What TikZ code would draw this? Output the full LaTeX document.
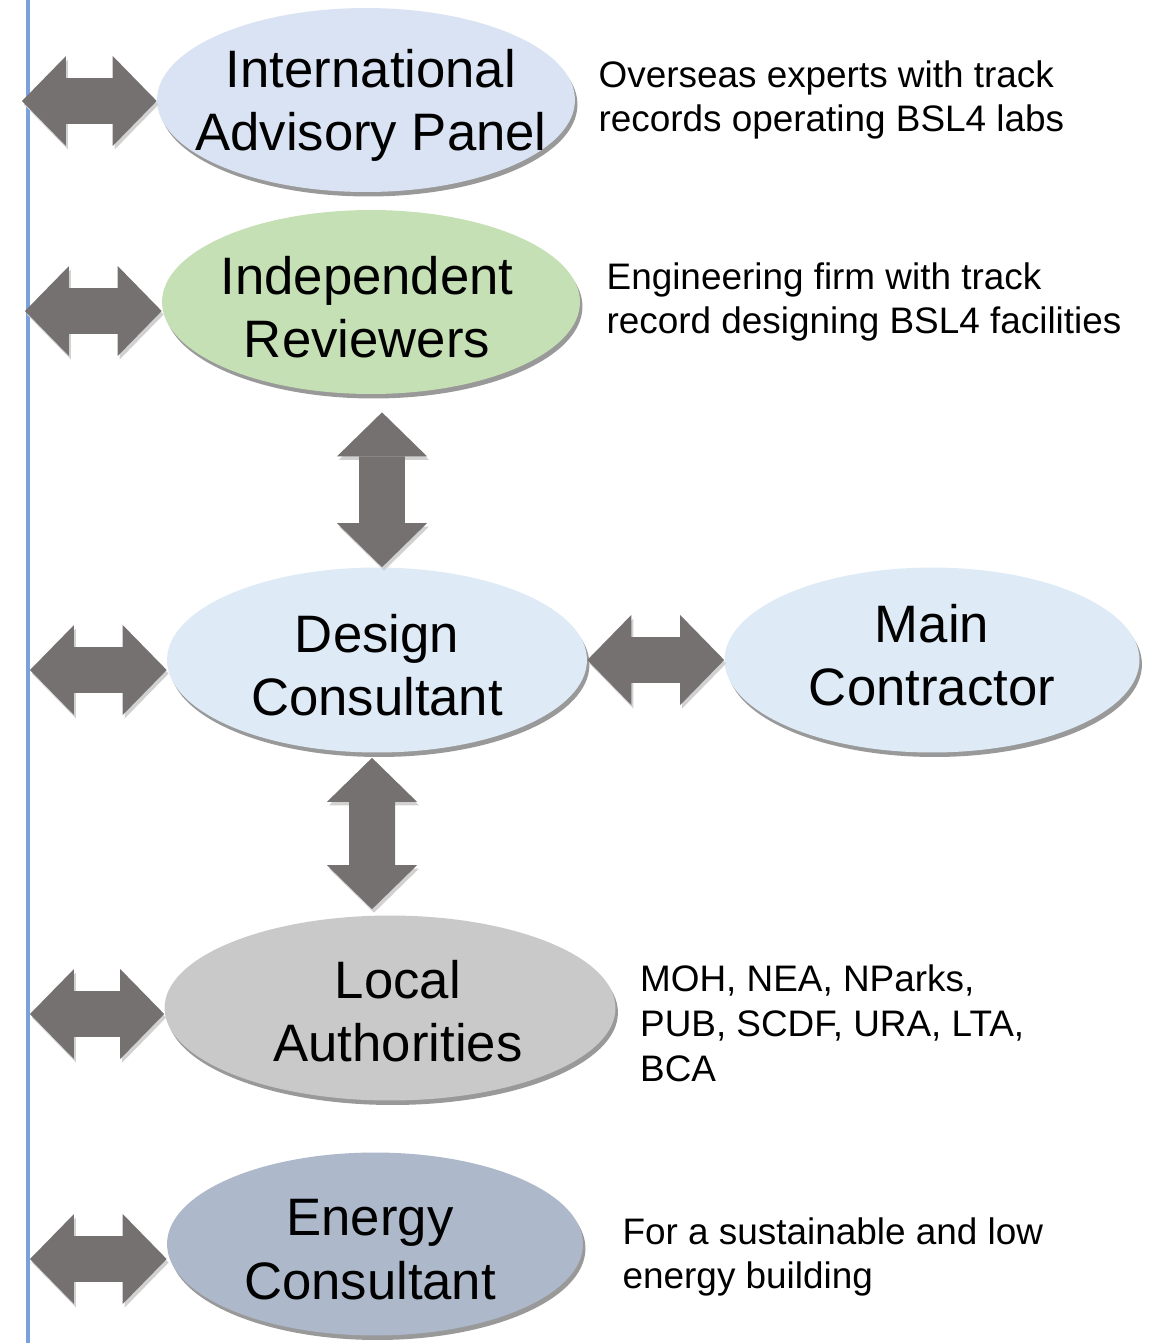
\documentclass[tikz,border=0pt]{standalone}
\usepackage{fontspec}
\setmainfont{Liberation Sans}
\usepackage{xcolor}
\usepackage{tikz}
\definecolor{railblue}{RGB}{122,160,222}
\definecolor{arrowgray}{RGB}{118,113,113}
\definecolor{panelblue}{RGB}{218,227,243}
\definecolor{reviewgreen}{RGB}{197,224,180}
\definecolor{designblue}{RGB}{222,235,247}
\definecolor{authgray}{RGB}{201,201,201}
\definecolor{energyblue}{RGB}{173,185,202}
\usetikzlibrary{shapes.geometric, arrows.meta, positioning, calc, shadows}

\begin{document}
\begin{tikzpicture}[
        x=0.02cm, y=-0.02cm,
        party/.style={ellipse, minimum width=8.36cm, minimum height=3.68cm, inner sep=0pt,
                    drop shadow={shadow xshift=0.05cm, shadow yshift=-0.09cm, opacity=0.4, fill=black}},
        partytext/.style={align=center, inner sep=0pt, yshift=-0.11cm, font=\fontsize{30}{36}\selectfont},
        note/.style={align=left, inner sep=0pt, font=\fontsize{21}{25.5}\selectfont},
        bigarrow/.style={draw=arrowgray, line width=0.92cm,
                    {Triangle[length=0.88cm, width=1.8cm, line width=0pt]}-{Triangle[length=0.88cm, width=1.8cm, line width=0pt]},
                    preaction={draw=black!18, transform canvas={shift={(0.04cm,-0.07cm)}}}},
        rail/.style={draw=railblue, line width=0.1cm}
    ]
        \useasboundingbox (0,0) rectangle (1159,1343);

        % Left rail
        \coordinate (railtop) at (28,0);
        \coordinate (railbot) at (28,1343);
        \draw[rail] (railtop) -- (railbot);

        % Parties
        \node[party, fill=panelblue, label={[partytext, xshift=0.1cm]center:International\\Advisory Panel}] (iap) at (366,100) {};
        \node[party, fill=reviewgreen, label={[partytext, xshift=-0.08cm]center:Independent\\Reviewers}] (ir) at (371,302) {};
        \node[party, fill=designblue, minimum width=8.4cm, minimum height=3.7cm,
              label={[partytext]center:Design\\Consultant}] (dc) at (377,660) {};
        \node[party, fill=designblue, minimum width=8.3cm, minimum height=3.7cm,
              label={[partytext, yshift=0.2cm]center:Main\\Contractor}] (mc) at (932,660) {};
        \node[party, fill=authgray, minimum width=9.02cm, minimum height=3.7cm,
              label={[partytext, xshift=0.16cm, yshift=0.05cm]center:Local\\Authorities}] (la) at (390,1008) {};
        \node[party, fill=energyblue, minimum width=8.32cm, minimum height=3.66cm,
              label={[partytext, xshift=-0.1cm]center:Energy\\Consultant}] (ec) at (375,1244) {};

        % Notes
        \node[note, right=0.46cm of iap] (iapnote) {Overseas experts with track\\records operating BSL4 labs};
        \node[note, right=0.52cm of ir] (irnote) {Engineering firm with track\\record designing BSL4 facilities};
        \node[note, right=0.48cm of la, yshift=-0.3cm] (lanote) {MOH, NEA, NParks,\\PUB, SCDF, URA, LTA,\\BCA};
        \node[note, right=0.78cm of ec, yshift=-0.26cm] (ecnote) {For a sustainable and low\\energy building};

        % Rail ends of the arrows
        \coordinate (railiap) at (22,101);
        \coordinate (railir) at (25,311);
        \coordinate (raildc) at (30,670);
        \coordinate (railla) at (30,1014);
        \coordinate (railec) at (30,1259);

        % Arrows
        \draw[bigarrow] (railiap) -- (railiap -| iap.west);
        \draw[bigarrow] (railir) -- (railir -| ir.west);
        \draw[bigarrow] (raildc) -- (raildc -| dc.west);
        \draw[bigarrow] (railla) -- (railla -| la.west);
        \draw[bigarrow] (railec) -- (railec -| ec.west);
        \draw[bigarrow] (dc.east) -- (mc.west);
        \draw[bigarrow] ([xshift=0.22cm, yshift=-0.36cm]ir.south) -- ([xshift=0.1cm]dc.north);
        \draw[bigarrow] ([xshift=-0.1cm, yshift=-0.1cm]dc.south) -- ([xshift=-0.36cm, yshift=0.12cm]la.north);
    \end{tikzpicture}
\end{document}
